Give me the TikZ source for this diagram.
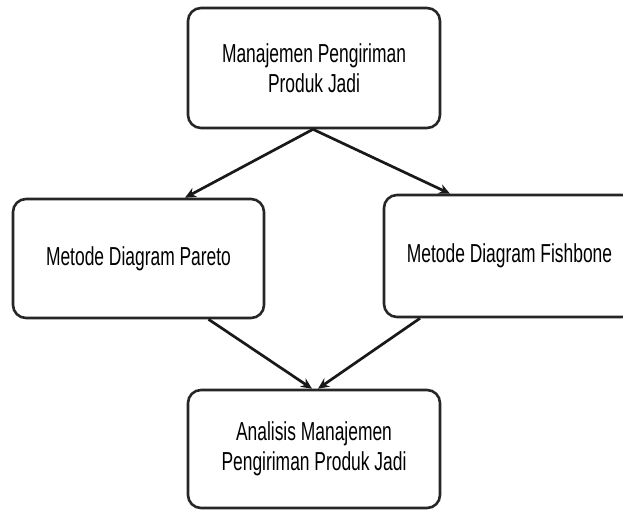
\documentclass[tikz,border=0pt]{standalone}
\usepackage{fontspec}
\setmainfont{Liberation Sans}[FakeStretch=0.67]
\usetikzlibrary{arrows.meta}
\begin{document}
\begin{tikzpicture}[x=1pt,y=-1pt,
  box/.style={draw=black!85, line width=2.6pt, rounded corners=13pt, align=center,
    font=\fontsize{26}{30}\selectfont, inner sep=0pt},
  conn/.style={draw=black!90, line width=2.7pt, -{Stealth[length=11pt,width=10pt]}}]
\useasboundingbox (0,0) rectangle (623,513);
\clip (0,0) rectangle (623,513);
\node[box, minimum width=252pt, minimum height=120pt] (top) at (314,68) {Manajemen Pengiriman\\Produk Jadi};
\node[box, minimum width=251pt, minimum height=119pt] (left) at (138.5,258.5) {Metode Diagram Pareto};
\node[box, minimum width=251pt, minimum height=122pt] (right) at (509.5,256) {Metode Diagram Fishbone};
\node[box, minimum width=252pt, minimum height=118pt] (bottom) at (314,449) {Analisis Manajemen\\Pengiriman Produk Jadi};
\draw[conn] ([xshift=-1pt]top.south) -- ([xshift=46.5pt]left.north);
\draw[conn] ([xshift=-1pt]top.south) -- ([xshift=-59.5pt]right.north);
\draw[conn] ([xshift=70pt]left.south) -- ([xshift=-2pt]bottom.north);
\draw[conn] ([xshift=-89.5pt]right.south) -- ([xshift=4pt]bottom.north);
\end{tikzpicture}
\end{document}
